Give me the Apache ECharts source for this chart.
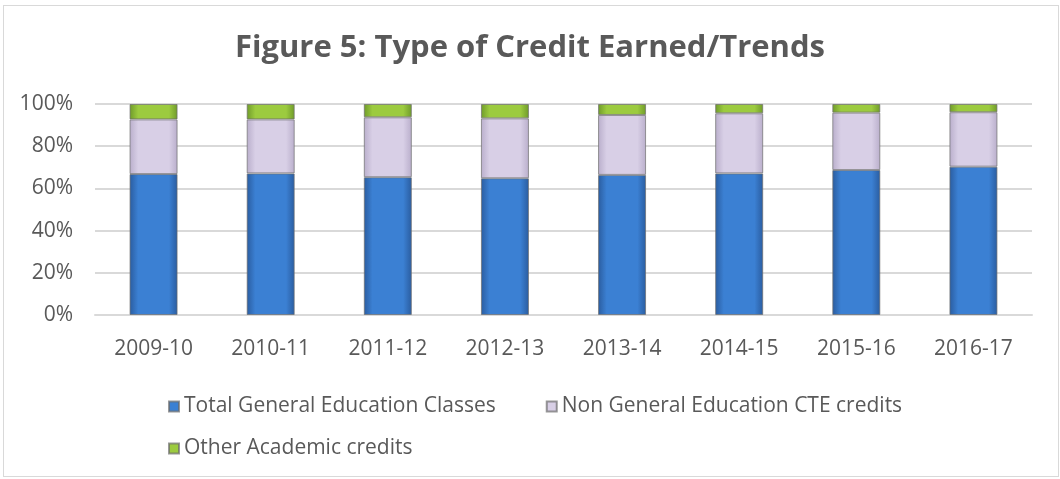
<!DOCTYPE html>
<html>
<head>
<meta charset="utf-8">
<script src="https://cdn.jsdelivr.net/npm/echarts@6/dist/echarts.min.js"></script>
<style>
  html, body { margin: 0; padding: 0; background: #fff; }
  #frame { position: absolute; left: 3px; top: 5px; width: 1054px; height: 470px; border: 1px solid #d9d9d9; }
  #chart { width: 1060px; height: 479px; position: absolute; left: 0; top: 0; }
</style>
</head>
<body>
<div id="frame"></div>
<div id="chart"></div>
<script>
const years = ['2009-10', '2010-11', '2011-12', '2012-13', '2013-14', '2014-15', '2015-16', '2016-17']
const generalEd = [66.8, 67.1, 65.3, 64.8, 66.4, 67.1, 68.7, 70.3]
const cteCredits = [25.9, 25.6, 28.4, 28.4, 28.4, 28.5, 27.2, 25.8]
const otherAcademic = [7.3, 7.3, 6.3, 6.8, 5.2, 4.4, 4.1, 3.9]
const seriesNames = ['Total General Education Classes', 'Non General Education CTE credits', 'Other Academic credits']

const textColor = '#595959'
const font = '"Open Sans", sans-serif'

function bevel(edge, mid) {
  return new echarts.graphic.LinearGradient(0, 0, 1, 0, [
    { offset: 0, color: edge },
    { offset: 0.18, color: mid },
    { offset: 0.82, color: mid },
    { offset: 1, color: edge }
  ])
}

function barSeries(name, data, edge, mid) {
  return {
    name: name,
    type: 'bar',
    stack: 'credits',
    barWidth: '41%',
    data: data,
    itemStyle: {
      color: bevel(edge, mid),
      borderColor: 'rgba(110,110,110,0.7)',
      borderWidth: 1
    }
  }
}

const chart = echarts.init(document.getElementById('chart'))
chart.setOption({
  animation: false,
  title: {
    text: 'Figure 5: Type of Credit Earned/Trends',
    left: 'center',
    top: 28,
    textStyle: { color: textColor, fontSize: 31, fontWeight: 'bold', fontFamily: font }
  },
  grid: { left: 95, right: 28, top: 104, bottom: 164 },
  legend: [
    {
      data: [seriesNames[0], seriesNames[1]],
      left: 163,
      top: 391,
      itemWidth: 10,
      itemHeight: 10,
      itemGap: 50,
      icon: 'rect',
      textStyle: { color: textColor, fontSize: 21, fontFamily: font }
    },
    {
      data: [seriesNames[2]],
      left: 163,
      top: 433,
      itemWidth: 10,
      itemHeight: 10,
      icon: 'rect',
      textStyle: { color: textColor, fontSize: 21, fontFamily: font }
    }
  ],
  xAxis: {
    type: 'category',
    data: years,
    axisTick: { show: false },
    axisLine: { lineStyle: { color: '#d9d9d9', width: 2 } },
    axisLabel: { color: textColor, fontSize: 21, fontFamily: font, margin: 24 }
  },
  yAxis: {
    type: 'value',
    min: 0,
    max: 100,
    interval: 20,
    axisLabel: { formatter: '{value}%', color: textColor, fontSize: 21, fontFamily: font, margin: 22 },
    splitLine: { lineStyle: { color: '#d9d9d9', width: 2 } }
  },
  series: [
    barSeries(seriesNames[0], generalEd, '#2a5c9f', '#3b80d3'),
    barSeries(seriesNames[1], cteCredits, '#b9aecb', '#d8cfe6'),
    barSeries(seriesNames[2], otherAcademic, '#6f9a2a', '#9ccb3f')
  ]
})
</script>
</body>
</html>
